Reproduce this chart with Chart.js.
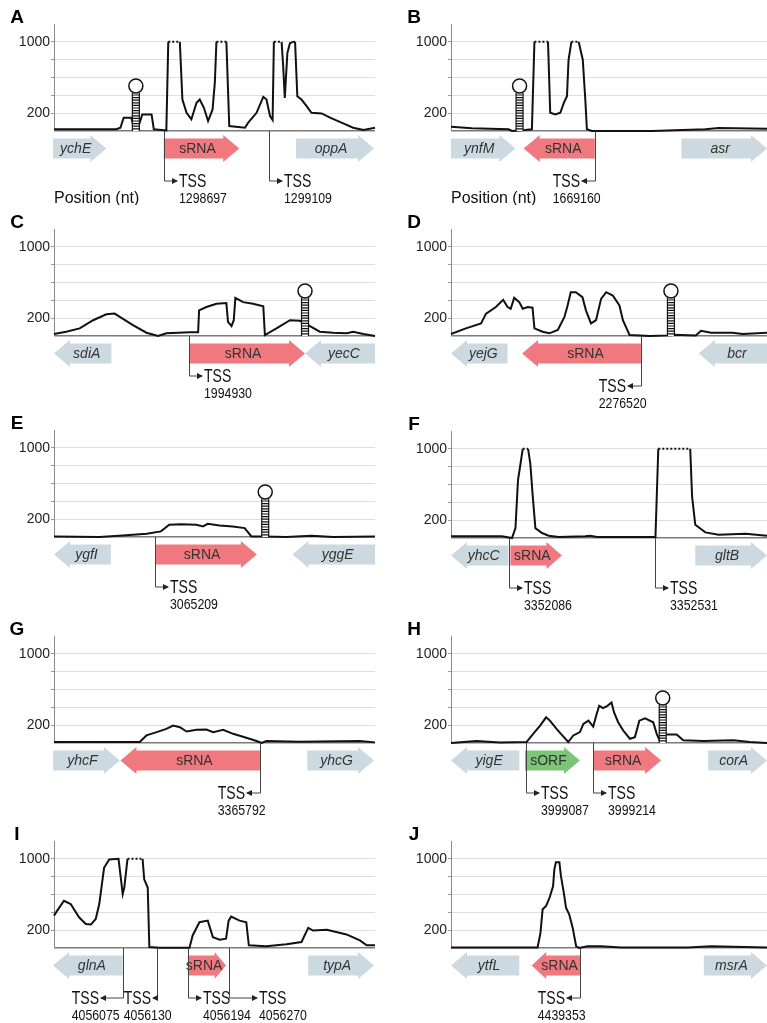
<!DOCTYPE html>
<html>
<head>
<meta charset="utf-8">
<script src="https://cdn.jsdelivr.net/npm/chart.js@4.4.1/dist/chart.umd.min.js"></script>
<style>
  body { margin:0; background:#fff; width:767px; height:1023px; position:relative; overflow:hidden; }
  canvas { position:absolute; }
</style>
</head>
<body>
<canvas id="cA" width="383" height="205" style="left:0;top:0"></canvas>
<canvas id="cB" width="370" height="205" style="left:397px;top:0"></canvas>
<canvas id="cC" width="383" height="205" style="left:0;top:205px"></canvas>
<canvas id="cD" width="370" height="205" style="left:397px;top:205px"></canvas>
<canvas id="cE" width="383" height="205" style="left:0;top:406px"></canvas>
<canvas id="cF" width="370" height="205" style="left:397px;top:407px"></canvas>
<canvas id="cG" width="383" height="205" style="left:0;top:612px"></canvas>
<canvas id="cH" width="370" height="205" style="left:397px;top:612px"></canvas>
<canvas id="cI" width="383" height="205" style="left:0;top:817px"></canvas>
<canvas id="cJ" width="370" height="205" style="left:397px;top:817px"></canvas>
<script>
/* ─── Coverage profiles (relative position 0–100, reads, capped at 1000) ─── */
const posA   = [0,19.4,20.7,21.7,24.1,24.9,26.2,27.5,30.4,31.1,35.0,35.6,39.2,40.0,41.3,42.8,44.4,45.4,46.7,48.0,49.4,50.1,50.6,53.7,54.6,59.5,60.5,63.1,65.2,66.2,67.3,68.1,68.5,70.9,71.4,71.9,72.7,73.5,74.5,75.1,75.8,77.1,78.7,80.2,83.4,86.0,90.1,93.2,96.4,100];
const readsA = [19,19,37,149,149,37,37,186,186,19,7,1000,1000,353,204,130,316,353,260,112,242,539,1000,1000,56,37,93,204,383,353,167,123,1000,1000,725,372,874,985,1000,1000,390,353,279,204,197,149,86,37,11,37];

const posB   = [0,6.6,18.2,19.3,23.5,25.6,26.4,30.7,31.4,33.0,34.6,35.7,36.7,37.2,38.1,40.4,41.7,42.5,43.0,44.6,63.6,80.5,84.7,100];
const readsB = [48,30,19,0,11,19,1000,1000,204,186,204,316,390,799,1000,1000,799,353,19,0,0,19,33,26];

const posC   = [0,3.8,8.0,12.2,16.3,18.9,20.5,24.6,28.8,32.4,35.0,42.3,44.9,45.2,47.5,50.6,53.7,54.2,55.3,56.0,56.5,58.9,62.0,65.2,65.7,69.3,73.5,76.6,79.2,82.8,87.0,91.2,93.2,96.4,100];
const readsC = [22,48,85,177,244,251,214,122,37,0,30,41,41,288,325,362,369,159,111,177,428,380,362,332,11,85,177,170,122,48,37,30,48,22,0];

const posD   = [0,4.7,9.5,11.1,14.2,16.5,17.9,18.9,20.0,21.6,22.7,24.3,25.8,26.4,29.0,31.1,33.8,35.9,36.9,37.9,39.5,41.6,42.7,44.3,45.9,47.5,49.1,51.2,53.3,54.4,56.5,62.8,69.4,70.3,77.5,79.1,82.3,89.1,92.3,100];
const readsD = [22,85,141,251,325,406,325,306,428,380,306,325,318,85,48,30,67,214,343,491,491,435,288,141,177,417,491,454,343,177,11,0,7,15,7,59,37,37,22,37];

const posE   = [0,14.1,20.3,28.9,33.3,35.9,39.6,44.3,46.4,47.9,51.6,55.7,59.4,61.5,65.1,72.4,80.2,87.0,100];
const readsE = [7,0,15,37,63,137,144,137,119,148,130,119,100,7,7,0,15,0,7];

const posF   = [0,16.1,19.3,20.4,21.2,22.0,22.7,24.4,25.1,25.8,26.7,28.8,30.9,34.1,42.5,44.1,46.2,64.7,65.6,75.7,76.3,77.3,80.5,84.7,93.2,100];
const readsF = [19,19,0,111,648,833,1000,1000,833,500,111,56,26,11,19,26,11,11,1000,1000,463,148,63,37,48,26];

const posG   = [0,19.4,26.7,28.8,32.0,35.0,37.1,39.2,41.3,44.4,47.5,49.6,52.7,55.8,59.9,63.1,64.7,66.2,76.6,95.3,100];
const readsG = [11,11,11,85,122,159,196,177,129,148,151,122,148,103,59,22,0,22,15,22,7];

const posH   = [0,8.1,15.5,23.9,26.0,28.2,30.1,31.3,33.4,35.5,37.1,38.7,40.8,41.9,43.5,45.0,46.1,46.9,48.1,49.5,50.8,51.6,52.9,54.5,56.6,58.2,59.6,61.4,64.0,65.1,66.1,67.7,71.4,73.5,79.9,89.3,94.6,100];
const readsH = [0,22,7,11,103,196,288,251,159,74,11,85,122,214,251,185,325,417,391,417,454,343,233,140,48,66,251,277,233,103,22,96,96,30,22,30,11,0];

const posI   = [0,1.0,3.1,5.2,7.8,9.9,11.5,13.0,14.1,15.6,17.2,20.1,20.8,21.4,21.9,22.9,27.6,28.1,29.2,29.7,32.8,42.2,43.2,45.3,47.9,49.5,51.6,53.6,54.4,55.2,57.8,59.9,60.7,66.1,72.4,77.1,79.2,80.7,85.0,91.1,95.3,97.4,100];
const readsI = [363,419,530,493,344,270,263,326,493,900,993,1000,789,604,678,1000,1000,770,678,11,4,4,141,289,307,122,93,104,307,352,307,289,30,19,41,67,226,196,204,152,85,30,30];

const posJ   = [0,20.0,27.4,28.3,29.0,30.1,31.2,32.3,32.7,33.2,34.3,34.8,35.7,36.4,37.4,38.5,39.6,40.6,43.2,47.5,53.8,74.9,82.3,100];
const readsJ = [7,7,7,167,434,472,566,693,880,963,963,805,618,453,378,228,19,0,19,19,7,7,19,7];

/* ─── Y axis ticks ─── */
const yTicks  = [0,200,400,600,800,1000,1200];
const yLabels = [200,1000];

/* ─── Genes: [name, from, to, strand, kind] ─── */
const genesA = [['ychE',-0.3,16.3,1,'gene'],['sRNA',34.2,57.7,1,'srna'],['oppA',75.4,99.7,1,'gene']];
const genesB = [['ynfM',0,20.4,1,'gene'],['sRNA',23.0,45.5,-1,'srna'],['asr',72.9,100,1,'gene']];
const genesC = [['sdiA',0,17.9,-1,'gene'],['sRNA',42.1,78.2,1,'srna'],['yecC',78.2,100,-1,'gene']];
const genesD = [['yejG',0,17.9,-1,'gene'],['sRNA',22.5,60.1,-1,'srna'],['bcr',78.4,100,-1,'gene']];
const genesE = [['ygfI',0,17.7,-1,'gene'],['sRNA',31.6,63.2,1,'srna'],['yggE',74.3,100,-1,'gene']];
const genesF = [['yhcC',0,18.2,-1,'gene'],['sRNA',18.8,35.1,1,'srna'],['gltB',77.3,100,1,'gene']];
const genesG = [['yhcF',-0.3,20.5,1,'gene'],['sRNA',20.7,64.3,-1,'srna'],['yhcG',78.9,99.7,1,'gene']];
const genesH = [['yigE',0,21.6,-1,'gene'],['sORF',23.4,40.8,1,'sorf'],['sRNA',45.0,66.5,1,'srna'],['corA',81.4,100,1,'gene']];
const genesI = [['glnA',-0.3,21.4,-1,'gene'],['sRNA',41.7,53.6,1,'srna'],['typA',79.2,99.7,1,'gene']];
const genesJ = [['ytfL',0,21.6,-1,'gene'],['sRNA',25.5,40.9,-1,'srna'],['msrA',80.0,100,1,'gene']];

/* ─── Transcription start sites: [position, strand, coordinate] ─── */
const tssA = [[34.2,1,'1298697'],[67.0,1,'1299109']];
const tssB = [[45.5,-1,'1669160']];
const tssC = [[42.1,1,'1994930']];
const tssD = [[60.1,-1,'2276520']];
const tssE = [[31.6,1,'3065209']];
const tssF = [[18.5,1,'3352086'],[64.7,1,'3352531']];
const tssG = [[64.3,-1,'3365792']];
const tssH = [[23.7,1,'3999087'],[45.0,1,'3999214']];
const tssI = [[21.6,-1,'4056075'],[32.0,-1,'4056130'],[41.7,1,'4056194'],[54.4,1,'4056270']];
const tssJ = [[40.9,-1,'4439353']];

/* ─── Terminator hairpins ─── */
const termA = [25.5];
const termB = [21.7];
const termC = [78.2];
const termD = [69.6];
const termE = [65.8];
const termH = [67.0];

/* ─── Styling ─── */
const FONT = '"Liberation Sans", Arial, Helvetica, sans-serif';
const GENE_COLORS = { gene:'#ccd9e0', srna:'#f0787f', sorf:'#7cc576' };
const ARM_LEN = { I: [22, 4, 13, 28] };   // longer TSS arms in panel I
const ARM_DROP = { C: 40 };                // panel C labels sit higher

function condText(ctx, s, x, y, font, align, sx) {
  ctx.save();
  ctx.font = font;
  ctx.textAlign = 'left';
  ctx.textBaseline = 'middle';
  const w = ctx.measureText(s).width * sx;
  let left = x;
  if (align === 'right') left = x - w;
  else if (align === 'center') left = x - w / 2;
  ctx.translate(left, y);
  ctx.scale(sx, 1);
  ctx.fillText(s, 0, 0);
  ctx.restore();
  return w;
}

function drawGene(ctx, x0, x1, base, g) {
  const [name, , , dir, kind] = g;
  const top = base + 4, h = 27, inset = 3.5;
  const w = x1 - x0, head = Math.min(16, w * 0.3);
  ctx.beginPath();
  if (dir > 0) {
    ctx.moveTo(x0, top + inset);
    ctx.lineTo(x1 - head, top + inset);
    ctx.lineTo(x1 - head, top);
    ctx.lineTo(x1, top + h / 2);
    ctx.lineTo(x1 - head, top + h);
    ctx.lineTo(x1 - head, top + h - inset);
    ctx.lineTo(x0, top + h - inset);
  } else {
    ctx.moveTo(x1, top + inset);
    ctx.lineTo(x0 + head, top + inset);
    ctx.lineTo(x0 + head, top);
    ctx.lineTo(x0, top + h / 2);
    ctx.lineTo(x0 + head, top + h);
    ctx.lineTo(x0 + head, top + h - inset);
    ctx.lineTo(x1, top + h - inset);
  }
  ctx.closePath();
  ctx.fillStyle = GENE_COLORS[kind];
  ctx.fill();
  ctx.fillStyle = '#333';
  ctx.font = (kind === 'gene' ? 'italic ' : '') + '14px ' + FONT;
  ctx.textAlign = 'center';
  ctx.textBaseline = 'middle';
  const cx = dir > 0 ? (x0 + x1 - head * 0.5) / 2 : (x0 + head * 0.5 + x1) / 2;
  ctx.fillText(name, cx, top + h / 2 + 1);
}

function drawHairpin(ctx, px, base) {
  const r = 7, cy = base - 45, stemTop = cy + r, hw = 3.5;
  ctx.fillStyle = '#fff';
  ctx.fillRect(px - hw, stemTop, hw * 2, base - stemTop);
  ctx.strokeStyle = '#111';
  ctx.lineWidth = 1.2;
  ctx.beginPath();
  ctx.moveTo(px - hw, stemTop); ctx.lineTo(px - hw, base);
  ctx.moveTo(px + hw, stemTop); ctx.lineTo(px + hw, base);
  for (let y = stemTop + 2; y < base; y += 2.6) {
    ctx.moveTo(px - hw, y); ctx.lineTo(px + hw, y);
  }
  ctx.stroke();
  ctx.beginPath();
  ctx.arc(px, cy, r, 0, Math.PI * 2);
  ctx.fillStyle = '#fff';
  ctx.fill();
  ctx.lineWidth = 1.5;
  ctx.stroke();
}

function drawTss(ctx, px, base, t, len, drop) {
  const dir = t[1];
  const yArm = base + drop;
  const tip = px + dir * len;
  ctx.strokeStyle = '#444';
  ctx.lineWidth = 1;
  ctx.beginPath();
  ctx.moveTo(px + 0.5, base);
  ctx.lineTo(px + 0.5, yArm);
  ctx.lineTo(tip, yArm);
  ctx.stroke();
  ctx.fillStyle = '#222';
  ctx.beginPath();
  ctx.moveTo(tip + dir * 1, yArm);
  ctx.lineTo(tip - dir * 5, yArm - 3);
  ctx.lineTo(tip - dir * 5, yArm + 3);
  ctx.closePath();
  ctx.fill();
  ctx.fillStyle = '#111';
  const tssFont = '18px ' + FONT, numFont = '14px ' + FONT;
  let left;
  if (dir > 0) {
    left = tip + 2;
    condText(ctx, 'TSS', left, yArm + 1, tssFont, 'left', 0.78);
  } else {
    const w = condText(ctx, 'TSS', tip - 2, yArm + 1, tssFont, 'right', 0.78);
    left = tip - 2 - w;
  }
  condText(ctx, t[2], left, yArm + 18, numFont, 'left', 0.88);
}

const trackPlugin = {
  id: 'track',
  afterDraw(chart, args, o) {
    const { ctx, chartArea: ca, scales: { x } } = chart;
    const base = ca.bottom;
    ctx.save();
    ctx.fillStyle = '#000';
    ctx.font = 'bold 19px ' + FONT;
    ctx.textAlign = 'center';
    ctx.textBaseline = 'middle';
    ctx.fillText(o.letter, 17, 18);
    o.genes.forEach(g => drawGene(ctx, x.getPixelForValue(g[1]), x.getPixelForValue(g[2]), base, g));
    o.term.forEach(t => drawHairpin(ctx, x.getPixelForValue(t), base));
    const lens = ARM_LEN[o.letter] || [];
    const drop = ARM_DROP[o.letter] || 50;
    o.tss.forEach((t, i) => drawTss(ctx, Math.round(x.getPixelForValue(t[0])), base, t, lens[i] || 13, drop));
    if (o.showPos) {
      ctx.fillStyle = '#111';
      ctx.font = '16px ' + FONT;
      ctx.textAlign = 'left';
      ctx.textBaseline = 'middle';
      ctx.fillText('Position (nt)', ca.left, base + 68);
    }
    ctx.restore();
  }
};

function createTrackChart(canvasId, letter, pos, reads, genes, tss, term, right, showPos) {
  const el = document.getElementById(canvasId);
  if (!el) return null;
  return new Chart(el, {
    type: 'line',
    data: {
      datasets: [{
        data: pos.map((p, i) => ({ x: p, y: reads[i] })),
        borderColor: '#111',
        borderWidth: 2,
        pointRadius: 0,
        tension: 0,
        clip: false,
        segment: {
          borderDash: c => (c.p0.parsed.y >= 1000 && c.p1.parsed.y >= 1000) ? [2, 2] : undefined,
        },
      }],
    },
    options: {
      responsive: false,
      animation: false,
      devicePixelRatio: 1,
      layout: { padding: { top: 24, bottom: 74, left: 0, right: right ? 0 : 8 } },
      plugins: {
        legend: { display: false },
        tooltip: { enabled: false },
        track: { letter, genes, tss, term, showPos },
      },
      scales: {
        x: { type: 'linear', min: 0, max: 100, display: false },
        y: {
          min: 0, max: 1200,
          afterBuildTicks: s => { s.ticks = yTicks.map(v => ({ value: v })); },
          afterFit: s => { s.width = 54; },
          border: { display: true, color: '#8a8a8a', width: 1 },
          grid: {
            color: c => c.tick.value === 0 ? '#7a7a7a' : c.tick.value === 1200 ? 'rgba(0,0,0,0)' : '#dedede',
            lineWidth: c => c.tick.value === 0 ? 1.5 : 1,
            tickLength: 3,
            tickColor: c => (c.tick.value === 0 || c.tick.value === 1200) ? 'rgba(0,0,0,0)' : '#999',
          },
          ticks: {
            autoSkip: false,
            padding: 1,
            color: '#222',
            font: { size: 14, family: FONT },
            callback: v => yLabels.includes(v) ? String(v) : '',
          },
        },
      },
    },
    plugins: [trackPlugin],
  });
}

createTrackChart('cA', 'A', posA, readsA, genesA, tssA, termA, false, true);
createTrackChart('cB', 'B', posB, readsB, genesB, tssB, termB, true, true);
createTrackChart('cC', 'C', posC, readsC, genesC, tssC, termC, false, false);
createTrackChart('cD', 'D', posD, readsD, genesD, tssD, termD, true, false);
createTrackChart('cE', 'E', posE, readsE, genesE, tssE, termE, false, false);
createTrackChart('cF', 'F', posF, readsF, genesF, tssF, [], true, false);
createTrackChart('cG', 'G', posG, readsG, genesG, tssG, [], false, false);
createTrackChart('cH', 'H', posH, readsH, genesH, tssH, termH, true, false);
createTrackChart('cI', 'I', posI, readsI, genesI, tssI, [], false, false);
createTrackChart('cJ', 'J', posJ, readsJ, genesJ, tssJ, [], true, false);
</script>
</body>
</html>
